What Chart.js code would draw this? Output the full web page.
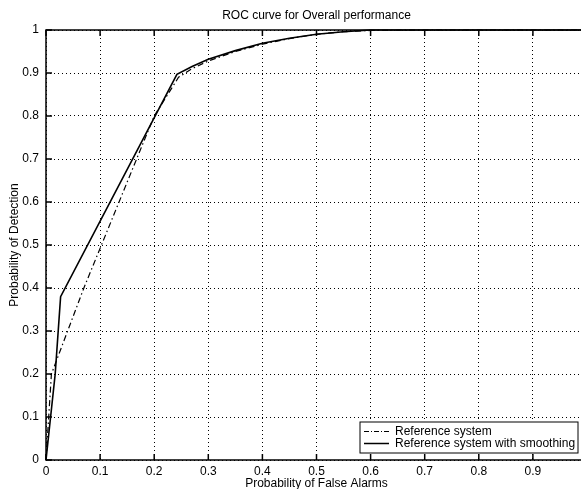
<!DOCTYPE html>
<html>
<head>
<meta charset="utf-8">
<script src="https://cdn.jsdelivr.net/npm/chart.js@4"></script>
<style>
    html, body { margin: 0; padding: 0; background: #fff; overflow: hidden; }
    #wrap { position: absolute; left: 0; top: 0; width: 600px; height: 500px; }
</style>
</head>
<body>
<div id="wrap"><canvas id="rocChart"></canvas></div>
<script>
const falseAlarmsRef = [0, 0.01, 0.07, 0.2, 0.245, 0.27, 0.3, 0.35, 0.4, 0.45, 0.5, 0.55, 0.6, 0.7, 0.8, 0.9, 1.0];
const detectionRef = [0, 0.2, 0.4, 0.8, 0.89, 0.91, 0.928, 0.95, 0.967, 0.98, 0.99, 0.996, 0.999, 1, 1, 1, 1];

const falseAlarmsSmooth = [0, 0.017, 0.027, 0.242, 0.27, 0.3, 0.35, 0.4, 0.45, 0.5, 0.55, 0.6, 0.7, 0.8, 0.9, 1.0];
const detectionSmooth = [0, 0.2, 0.38, 0.897, 0.915, 0.932, 0.952, 0.969, 0.981, 0.99, 0.996, 1, 1, 1, 1, 1];

const tickValues = [0, 0.1, 0.2, 0.3, 0.4, 0.5, 0.6, 0.7, 0.8, 0.9, 1];

const seriesNames = ['Reference system', 'Reference system with smoothing'];

const FONT = 'Liberation Sans, Arial, sans-serif';

function toPoints(xs, ys) {
    return xs.map((x, i) => ({ x: x, y: ys[i] }));
}

// title, box, inward ticks and legend, matlab style
const matlabFrame = {
    id: 'matlabFrame',
    afterDraw(chart) {
        const ctx = chart.ctx;
        const area = chart.chartArea;
        const xs = chart.scales.x;
        const ys = chart.scales.y;
        ctx.save();

        ctx.strokeStyle = '#000';
        ctx.lineWidth = 1.5;
        ctx.setLineDash([]);
        ctx.strokeRect(area.left, area.top, area.right - area.left, area.bottom - area.top);

        ctx.lineWidth = 1.5;
        ctx.beginPath();
        tickValues.forEach(v => {
            const px = xs.getPixelForValue(v);
            ctx.moveTo(px, area.bottom); ctx.lineTo(px, area.bottom - 6);
            ctx.moveTo(px, area.top); ctx.lineTo(px, area.top + 6);
            const py = ys.getPixelForValue(v);
            ctx.moveTo(area.left, py); ctx.lineTo(area.left + 6, py);
        });
        ctx.stroke();

        // title
        ctx.fillStyle = '#000';
        ctx.font = '12px ' + FONT;
        ctx.textAlign = 'center';
        ctx.textBaseline = 'middle';
        ctx.fillText('ROC curve for Overall performance', (area.left + area.right) / 2, 16);

        // legend box
        const bx = 360, by = 422, bw = 218, bh = 31;
        ctx.fillStyle = '#fff';
        ctx.fillRect(bx, by, bw, bh);
        ctx.lineWidth = 1;
        ctx.strokeStyle = '#000';
        ctx.strokeRect(bx, by, bw, bh);

        const rows = [by + 9.5, by + 21.5];
        ctx.lineWidth = 1;
        ctx.setLineDash([5, 2, 1, 2]);
        ctx.beginPath(); ctx.moveTo(364, rows[0]); ctx.lineTo(389, rows[0]); ctx.stroke();
        ctx.setLineDash([]);
        ctx.lineWidth = 1.5;
        ctx.beginPath(); ctx.moveTo(364, rows[1]); ctx.lineTo(389, rows[1]); ctx.stroke();

        ctx.fillStyle = '#000';
        ctx.textAlign = 'left';
        ctx.textBaseline = 'middle';
        ctx.fillText(seriesNames[0], 395, rows[0]);
        ctx.fillText(seriesNames[1], 395, rows[1]);

        ctx.restore();
    }
};

const ctx = document.getElementById('rocChart').getContext('2d');
new Chart(ctx, {
    type: 'line',
    data: {
        datasets: [{
            label: seriesNames[0],
            data: toPoints(falseAlarmsRef, detectionRef),
            borderColor: '#000',
            borderWidth: 1.2,
            borderDash: [6, 3, 1.5, 3],
            pointRadius: 0,
            tension: 0,
            fill: false,
            clip: 4
        }, {
            label: seriesNames[1],
            data: toPoints(falseAlarmsSmooth, detectionSmooth),
            borderColor: '#000',
            borderWidth: 1.6,
            pointRadius: 0,
            tension: 0,
            fill: false,
            clip: 4
        }]
    },
    options: {
        responsive: true,
        maintainAspectRatio: false,
        animation: false,
        layout: {
            padding: { top: 30, bottom: 0, left: 0, right: 13 }
        },
        plugins: {
            legend: { display: false },
            title: { display: false },
            tooltip: { enabled: false }
        },
        scales: {
            x: {
                type: 'linear',
                min: 0,
                max: 1,
                afterFit: scale => { scale.height = 40; },
                afterBuildTicks: scale => { scale.ticks = tickValues.map(v => ({ value: v })); },
                ticks: {
                    color: '#000',
                    padding: 4,
                    font: { family: FONT, size: 12 },
                    callback: v => String(Math.round(v * 10) / 10)
                },
                grid: { color: '#000', lineWidth: 1, drawTicks: false },
                border: { display: false, dash: [1, 3] },
                title: {
                    display: true,
                    text: 'Probability of False Alarms',
                    color: '#000',
                    font: { family: FONT, size: 12 },
                    padding: { top: 0, bottom: 9 }
                }
            },
            y: {
                min: 0,
                max: 1,
                afterFit: scale => { scale.width = 46; },
                afterBuildTicks: scale => { scale.ticks = tickValues.map(v => ({ value: v })); },
                ticks: {
                    color: '#000',
                    padding: 7,
                    font: { family: FONT, size: 12 },
                    callback: v => String(Math.round(v * 10) / 10)
                },
                grid: { color: '#000', lineWidth: 1, drawTicks: false },
                border: { display: false, dash: [1, 3] },
                title: {
                    display: true,
                    text: 'Probability of Detection',
                    color: '#000',
                    font: { family: FONT, size: 12 },
                    padding: { top: 7, bottom: 0 }
                }
            }
        }
    },
    plugins: [matlabFrame]
});
</script>
</body>
</html>
